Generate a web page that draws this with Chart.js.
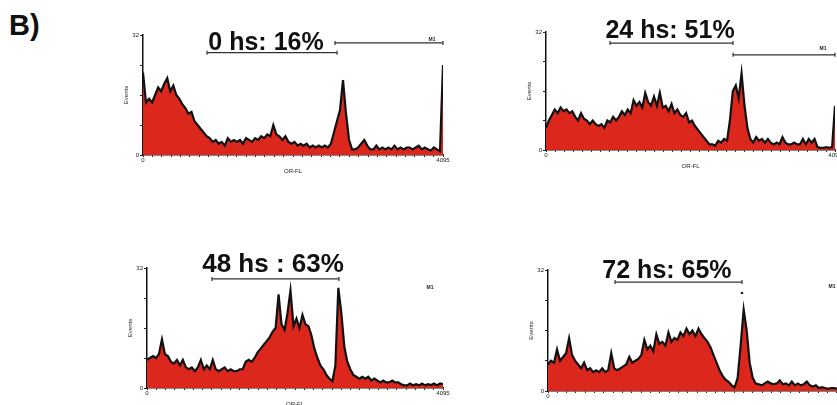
<!DOCTYPE html>
<html>
<head>
<meta charset="utf-8">
<script src="https://cdn.jsdelivr.net/npm/chart.js@4.4.0/dist/chart.umd.min.js"></script>
<style>
html, body { margin: 0; padding: 0; width: 837px; height: 405px; overflow: hidden; background: #fff; }
canvas { position: absolute; }
#label { position: absolute; left: 9px; top: 9px; font: bold 29px "Liberation Sans", Arial, sans-serif; color: #111; }
</style>
</head>
<body>
<div id="label">B)</div>
<canvas id="c0" width="380" height="190" style="left:80px;top:0px"></canvas>
<canvas id="c1" width="380" height="180" style="left:470px;top:0px"></canvas>
<canvas id="c2" width="380" height="190" style="left:80px;top:225px"></canvas>
<canvas id="c3" width="400" height="190" style="left:470px;top:225px"></canvas>
<script>
// DNA histograms (OR-FL channel 0..4095, 100 bins), events per bin
const hist0h = [22, 14, 15, 14, 16, 18, 17, 19, 20.5, 17,
  18.5, 16, 15, 13.5, 12.5, 11, 11.5, 9, 8, 7,
  6, 5, 4.5, 3.5, 4, 3, 3.5, 2.5, 4.5, 3.5,
  4, 3.5, 4, 3, 4.5, 4, 3.5, 4.5, 4, 5,
  4.5, 5.5, 5, 8, 5.5, 5, 4, 5, 3.5, 3,
  3.5, 2.5, 3, 2.5, 3, 2, 2.5, 2, 2.5, 2,
  2.5, 2, 3, 6, 9, 12, 20, 11, 4, 1.5,
  1.5, 2, 3, 4, 2.5, 1.5, 1.5, 2.5, 1.5, 2,
  1.5, 2, 1.5, 2.5, 1.5, 2, 1.5, 2, 2, 1.5,
  2, 2.5, 1.5, 2, 1.5, 1.2, 2, 1.5, 1, 24];
const hist24h = [6, 8, 9.5, 11, 10, 11.5, 10.5, 11, 10, 10.5,
  9, 8, 10, 8.5, 8, 7, 8, 7, 6.5, 7,
  6, 8, 7.5, 9, 8, 9, 10.5, 9.5, 11, 10,
  13.5, 12, 13, 11.5, 15.5, 13, 12, 14.5, 12, 15.5,
  11.5, 12, 10.5, 12.5, 10, 11, 9.5, 9, 10, 7.5,
  8, 6.5, 5.5, 4.5, 3.5, 2.5, 1.5, 1.5, 1.2, 2.5,
  2, 3, 2.5, 8, 16, 17.5, 14, 20.8, 12, 6,
  3, 2, 3.5, 2.5, 3, 2, 3, 2, 1.5, 2,
  1.5, 3.5, 2, 1.5, 1.5, 2, 1.5, 1.5, 3, 1.5,
  3, 2, 3, 0.8, 0.6, 0.6, 0.8, 0.6, 0.8, 12];
const hist48h = [7.5, 8, 8.5, 8, 9, 13, 9, 8.5, 7, 6.5,
  7.5, 6, 7.5, 5.5, 5, 5.5, 4.5, 5.5, 7.5, 5,
  6, 5, 7.5, 5, 4.5, 5, 5.5, 4.5, 5, 4.5,
  4.5, 5, 5, 7, 7.5, 7, 8, 9.5, 10.5, 11.5,
  12.5, 13.5, 15, 16, 25, 17, 15.5, 20, 26, 16.5,
  18.5, 16, 19.5, 17, 16.5, 14, 10.5, 8, 6, 5,
  3.5, 2.5, 1.8, 6, 26.7, 20, 11, 7, 5, 3.5,
  3, 2.5, 3, 2.5, 3, 2, 2.5, 2, 1.5, 2,
  1.5, 1.5, 2, 1.5, 1.5, 1, 0.7, 0.7, 1.2, 0.7,
  1, 0.7, 1.2, 0.7, 1, 0.8, 1.2, 0.7, 1.2, 1];
const hist72h = [7, 8, 7.5, 11, 8, 9, 10, 14, 9.5, 8,
  7, 6, 7.5, 5.5, 6, 5, 5.5, 5, 6, 5,
  5.5, 10, 6, 5.5, 6, 6.5, 7, 9, 7.5, 8,
  8.5, 9.5, 13.5, 11, 12, 10.5, 15, 12.5, 13, 12,
  15.5, 13, 14, 13.5, 15.5, 14.5, 16.5, 15, 16, 14.5,
  16.5, 15, 14, 13, 11.5, 9.5, 7.5, 5.5, 4, 3,
  2.4, 1.5, 1, 3.5, 12, 21.5, 16, 7.5, 3.5, 2,
  1.8, 1.5, 2, 2.5, 2, 1.8, 2, 2.8, 1.8, 2,
  1.5, 2.5, 1.5, 2, 1.5, 1.8, 2.5, 1.5, 1.2, 1.5,
  0.8, 1, 0.8, 0.6, 0.8, 0.8, 0.6, 0.8, 0.6, 0.8];

const titles = ['0 hs: 16%', '24 hs: 51%', '48 hs : 63%', '72 hs: 65%'];
const xEndLabels = ['4095', '4096', '4095', '4095'];
const gateRanges = [[874, 2648], [907, 2650], [899, 2656], [921, 2666]];
const m1Ranges = [[2621, 4095], [2650, 4095], null, null];
const yTicks = [0, 8, 16, 24, 32];
const maxChannel = 4095;

const RED = '#dc281c';
const WY = 20, HX = 20;

const panels = [
  {hist: hist0h, box: [80, 0, 380, 190], plot: [143, 35, 443, 155], titleAt: [1679, 28.0], size: 25,
   gateY: 27.3, m1Y: 29.9, m1Label: [3945, 30.9], dot: null},
  {hist: hist24h, box: [470, 0, 380, 180], plot: [546, 32, 835, 150], titleAt: [1757, 30.4], size: 25,
   gateY: 29.0, m1Y: 25.8, m1Label: [3925, 27.4], dot: null},
  {hist: hist48h, box: [80, 225, 380, 190], plot: [147, 268, 443, 388], titleAt: [1743, 30.9], size: 26,
   gateY: 29.1, m1Y: null, m1Label: [3915, 26.9], dot: null},
  {hist: hist72h, box: [470, 225, 400, 190], plot: [548, 270, 846, 391], titleAt: [1635, 29.9], size: 25,
   gateY: 28.8, m1Y: null, m1Label: [3903, 27.5], dot: [2666, 25.9]}
];

const gatePlugin = {
  id: 'gates',
  afterDraw(chart, args, opts) {
    const i = opts.index;
    const p = panels[i];
    const ctx = chart.ctx;
    const xs = chart.scales.x, ys = chart.scales.y;
    ctx.save();
    ctx.strokeStyle = '#333';
    ctx.lineWidth = 1.2;
    function hbar(range, yv) {
      const x1 = xs.getPixelForValue(range[0]);
      const x2 = xs.getPixelForValue(range[1]);
      const y = ys.getPixelForValue(yv);
      ctx.beginPath();
      ctx.moveTo(x1, y); ctx.lineTo(x2, y);
      ctx.moveTo(x1, y - 2); ctx.lineTo(x1, y + 2);
      ctx.moveTo(x2, y - 2); ctx.lineTo(x2, y + 2);
      ctx.stroke();
    }
    hbar(gateRanges[i], p.gateY);
    if (m1Ranges[i]) hbar(m1Ranges[i], p.m1Y);
    ctx.fillStyle = '#222';
    ctx.font = 'bold 5px "Liberation Sans", Arial, sans-serif';
    ctx.textAlign = 'center';
    ctx.textBaseline = 'middle';
    ctx.fillText('M1', xs.getPixelForValue(p.m1Label[0]), ys.getPixelForValue(p.m1Label[1]));
    if (p.dot) {
      ctx.beginPath();
      ctx.arc(xs.getPixelForValue(p.dot[0]), ys.getPixelForValue(p.dot[1]), 1.3, 0, Math.PI * 2);
      ctx.fill();
    }
    ctx.fillStyle = '#111';
    ctx.font = 'bold ' + p.size + 'px "Liberation Sans", Arial, sans-serif';
    ctx.textBaseline = 'alphabetic';
    ctx.fillText(titles[i], xs.getPixelForValue(p.titleAt[0]), ys.getPixelForValue(p.titleAt[1]));
    ctx.restore();
  }
};

const smallFont = {family: '"Liberation Sans", Arial, sans-serif', size: 6};

panels.forEach((p, i) => {
  const [bx, by, bw, bh] = p.box;
  const [L, T, R, B] = p.plot;
  const points = p.hist.map((v, k) => ({x: Math.round(k * maxChannel / (p.hist.length - 1)), y: v}));
  new Chart(document.getElementById('c' + i), {
    type: 'line',
    data: {
      datasets: [{
        data: points,
        fill: 'origin',
        backgroundColor: RED,
        borderColor: '#111',
        borderWidth: 2.2,
        pointRadius: 0,
        tension: 0
      }]
    },
    options: {
      responsive: false,
      animation: false,
      events: [],
      layout: {padding: {left: L - bx - WY, top: T - by, right: bx + bw - R, bottom: by + bh - B - HX}},
      plugins: {legend: {display: false}, tooltip: {enabled: false}, gates: {index: i}},
      scales: {
        x: {
          type: 'linear', min: 0, max: maxChannel,
          afterBuildTicks: s => {
            const t = [];
            for (let v = 0; v < maxChannel - 64; v += 128) t.push({value: v});
            t.push({value: maxChannel});
            s.ticks = t;
          },
          afterFit: s => { s.height = HX; },
          ticks: {autoSkip: false, maxRotation: 0, padding: 0, color: '#222', font: smallFont,
            callback: v => v === 0 ? '0' : (v === maxChannel ? xEndLabels[i] : '')},
          grid: {drawOnChartArea: false, tickLength: 2, color: '#222'},
          border: {color: '#111', width: 1.5},
          title: {display: true, text: 'OR-FL', color: '#222', font: smallFont, padding: 0}
        },
        y: {
          min: 0, max: 32,
          afterBuildTicks: s => { s.ticks = yTicks.map(v => ({value: v})); },
          afterFit: s => { s.width = WY; },
          ticks: {padding: 1, color: '#222', font: smallFont,
            callback: v => (v === 0 || v === 32) ? String(v) : ''},
          grid: {drawOnChartArea: false, tickLength: 3, color: '#222'},
          border: {color: '#111', width: 1.5},
          title: {display: true, text: 'Events', color: '#222', font: smallFont, padding: 0}
        }
      }
    },
    plugins: [gatePlugin]
  });
});
</script>
</body>
</html>
